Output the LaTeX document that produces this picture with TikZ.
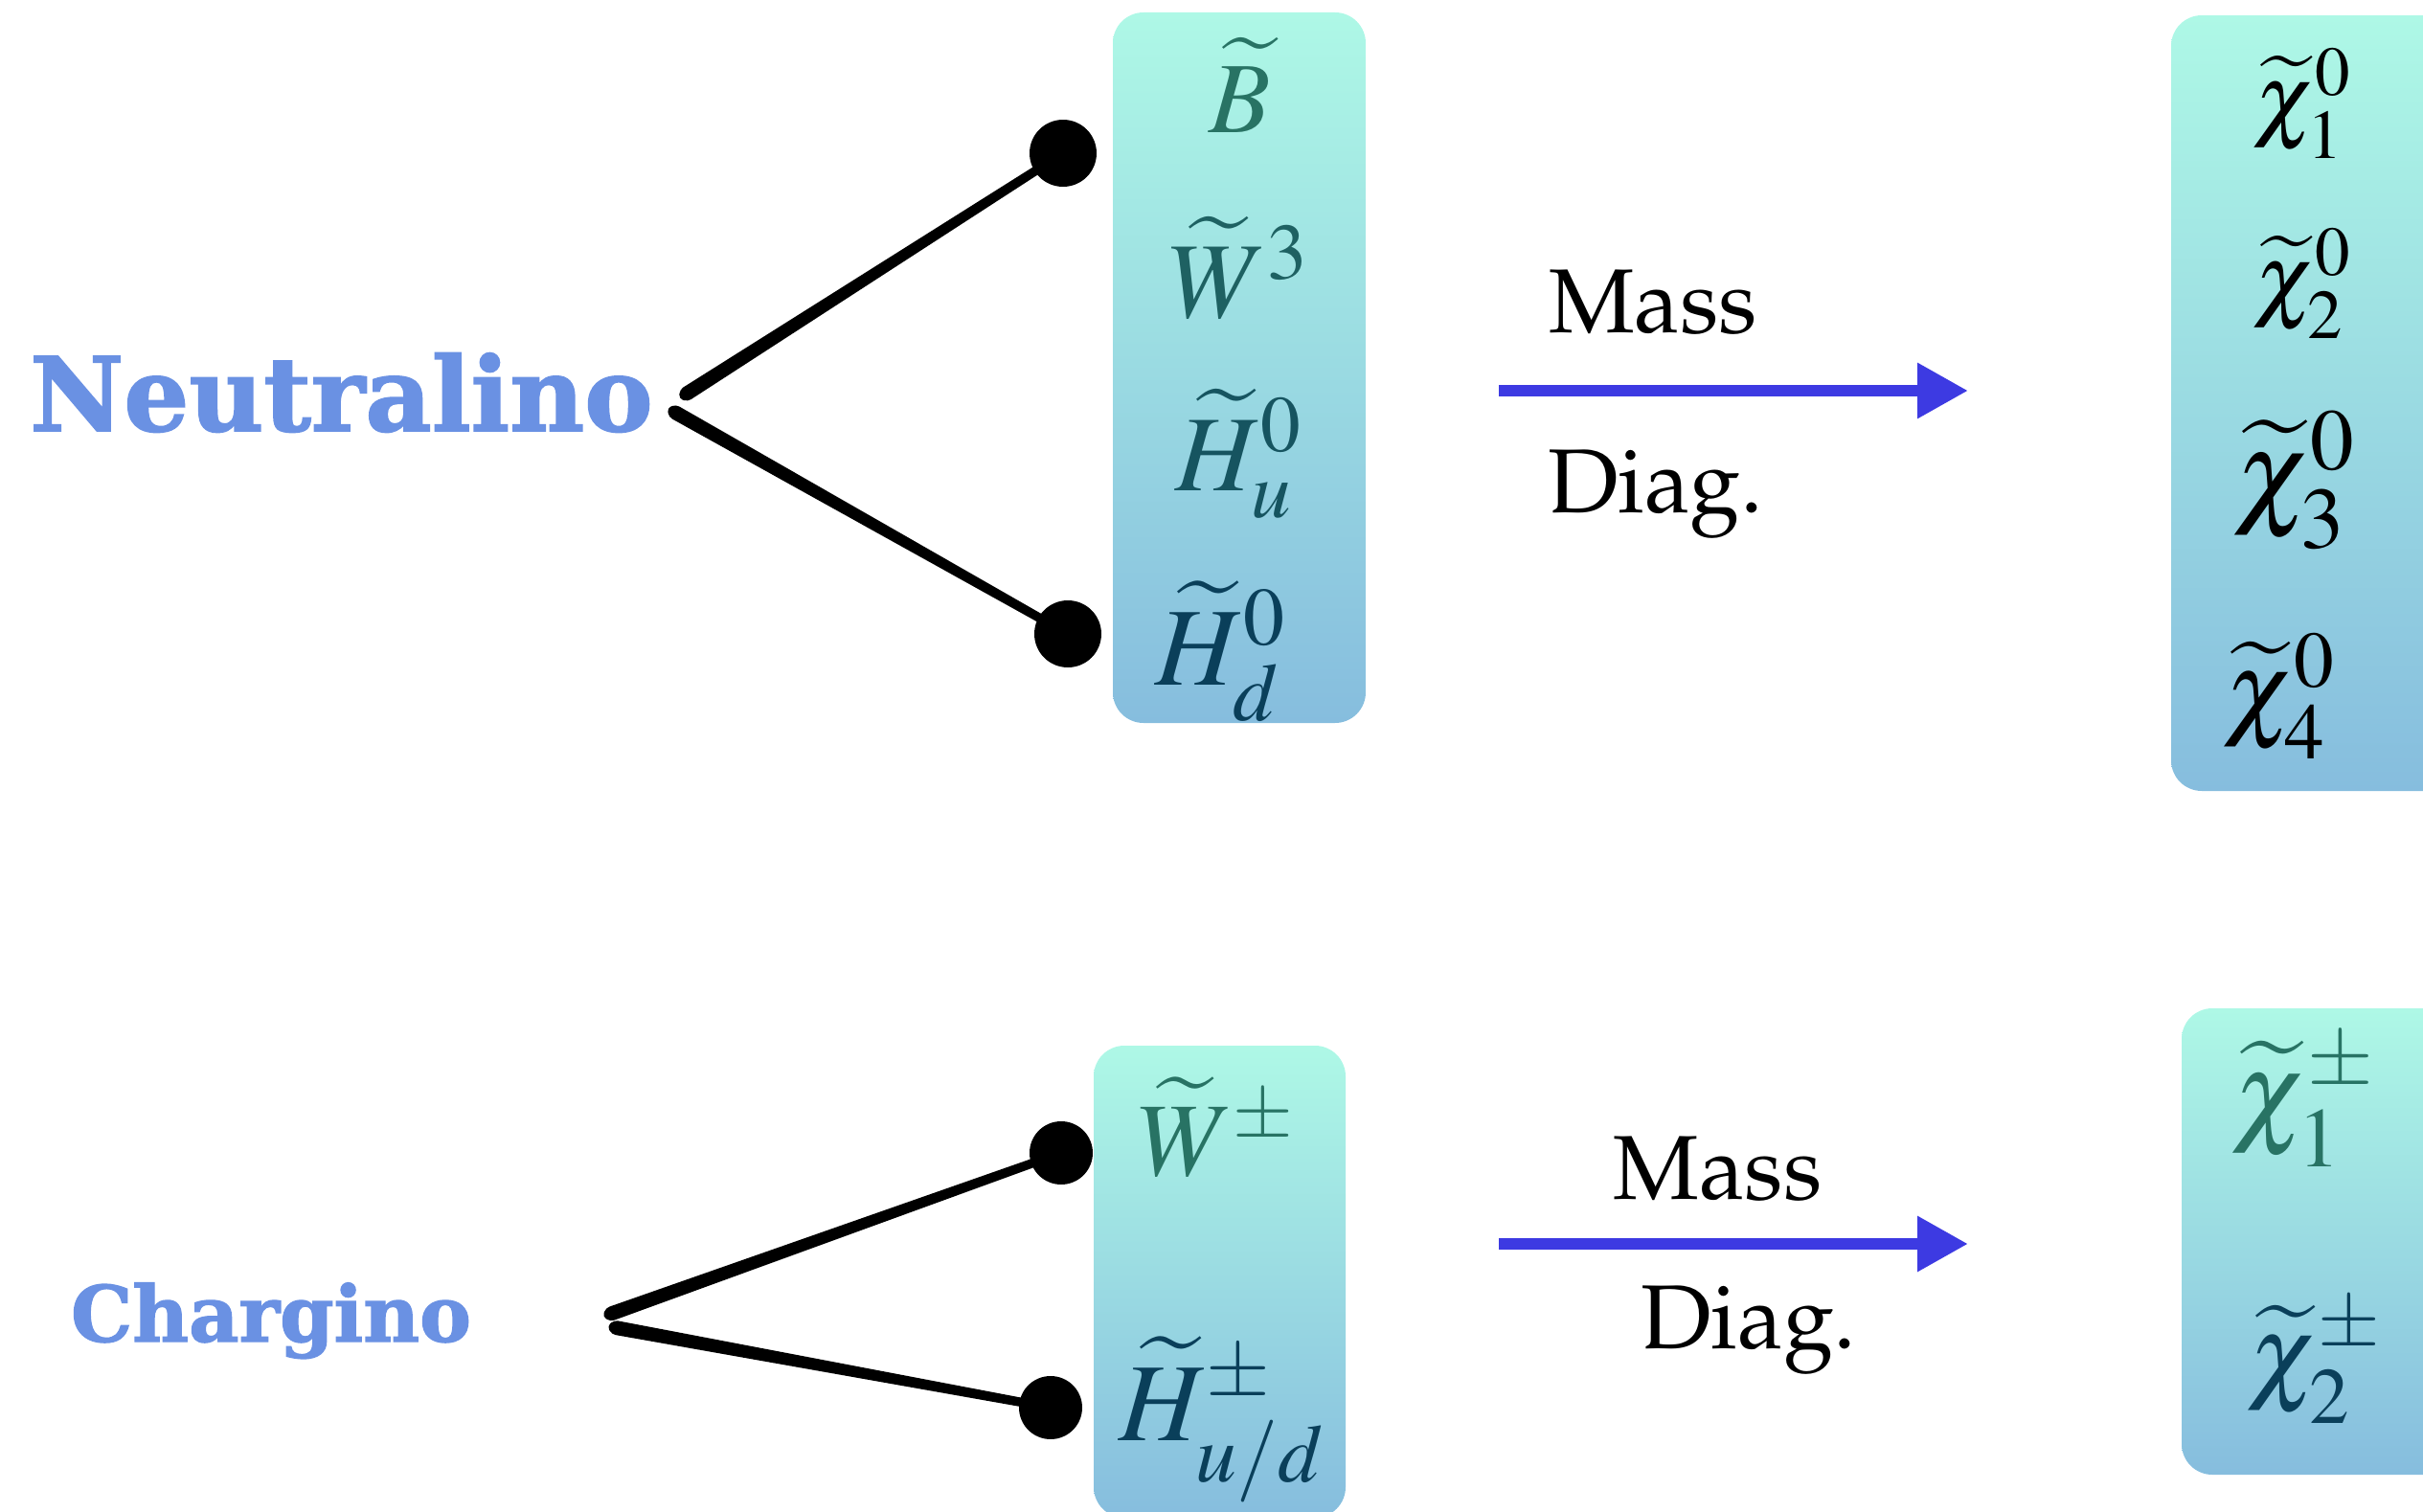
\documentclass[tikz,border=0pt]{standalone}
\usepackage[no-math]{fontspec}
\usepackage[T1]{fontenc}
\usepackage{mathptmx}
\renewcommand{\rmdefault}{ppl}
\newfontfamily\labelfont{DejaVu Serif}[BoldFeatures={FakeBold=1.6}]
\usetikzlibrary{positioning, arrows.meta, calc}

\definecolor{labelblue}{RGB}{106,145,227}
\definecolor{arrowblue}{RGB}{61,58,226}
\definecolor{boxtop}{RGB}{174,248,230}
\definecolor{boxbot}{RGB}{134,189,222}
\definecolor{tealA}{RGB}{40,115,100}
\definecolor{tealB}{RGB}{30,97,98}
\definecolor{tealC}{RGB}{22,84,96}
\definecolor{tealD}{RGB}{10,63,90}

\begin{document}
\begin{tikzpicture}[
    every node/.style={inner sep=0pt},
    partname/.style={font=\labelfont\bfseries, text=labelblue, anchor=base},
    mixbox/.style={rounded corners=0.32cm, top color=boxtop, bottom color=boxbot, draw=none, minimum width=2.64cm},
    vdot/.style={circle, fill=black, minimum size=0.70cm},
    brush/.style={rounded corners=0.04cm, to path={
        ($(\tikztostart)!-0.06cm!(\tikztotarget)$)
        -- ($(\tikztostart)!0.075cm!-90:(\tikztotarget)$)
        -- ($(\tikztotarget)!0.045cm!90:(\tikztostart)$)
        -- ($(\tikztotarget)!0.045cm!-90:(\tikztostart)$)
        -- ($(\tikztostart)!0.075cm!90:(\tikztotarget)$) -- cycle}},
    diagarrow/.style={-{Triangle[length=0.53cm, width=0.55cm]}, line width=0.125cm, draw=arrowblue},
    lbl/.style={font=\fontsize{27}{32}\selectfont, anchor=base},
]
\useasboundingbox (0,0) rectangle (25.30,-15.79);

% ── Neutralino ───────────────────────────────────────────────────────────────
\node[partname, font=\labelfont\bfseries\fontsize{30.5}{36}\selectfont] (neut) at (3.565,-4.50) {Neutralino};
\coordinate (nvtxa) at (7.14,-4.13);
\coordinate (nvtxb) at (7.02,-4.29);

\node[mixbox, minimum height=7.42cm] (nbox) at (12.94,-3.84) {};
\node[text=tealA, font=\fontsize{30}{36}\selectfont] (bino)  at (12.95,-0.89) {$\widetilde{B}$};
\node[text=tealB, font=\fontsize{32}{38}\selectfont] (wino)  at (12.94,-2.80) {$\widetilde{W}^3$};
\node[text=tealC, font=\fontsize{32}{38}\selectfont] (hup)   at (12.94,-4.74) {$\widetilde{H}_u^0$};
\node[text=tealD, font=\fontsize{33}{40}\selectfont] (hdown) at (12.75,-6.80) {$\widetilde{H}_d^0$};

\node[vdot] (ndota) at (11.10,-1.60) {};
\node[vdot] (ndotb) at (11.15,-6.62) {};
\fill[brush] (nvtxa) to (ndota);
\fill[brush] (nvtxb) to (ndotb);

\coordinate (narra) at (15.65,-4.08);
\coordinate (narrb) at (20.55,-4.08);
\draw[diagarrow] (narra) -- (narrb);
\node[lbl] (nmass) at (17.26,-3.47) {Mass};
\node[lbl] (ndiag) at (17.285,-5.35) {Diag.};

\node[mixbox, minimum width=3.33cm, minimum height=8.10cm] (nmix) at (24.335,-4.21) {};
\node[font=\fontsize{28}{34}\selectfont] (chia) at (24.04,-1.08) {$\widetilde{\chi}_1^0$};
\node[font=\fontsize{28}{34}\selectfont] (chib) at (24.04,-2.96) {$\widetilde{\chi}_2^0$};
\node[font=\fontsize{35}{42}\selectfont] (chic) at (23.96,-5.02) {$\widetilde{\chi}_3^0$};
\node[font=\fontsize{32}{38}\selectfont] (chid) at (23.80,-7.27) {$\widetilde{\chi}_4^0$};

% ── Chargino ─────────────────────────────────────────────────────────────────
\node[partname, font=\labelfont\bfseries\fontsize{23}{28}\selectfont] (charg) at (2.83,-14.01) {Chargino};
\coordinate (cvtxa) at (6.35,-13.73);
\coordinate (cvtxb) at (6.40,-13.86);

\node[mixbox, minimum width=2.63cm, minimum height=4.93cm] (cbox) at (12.735,-13.385) {};
\node[text=tealA, font=\fontsize{31}{37}\selectfont] (cwino) at (12.70,-11.77) {$\widetilde{W}^{\pm}$};
\node[text=tealD, font=\fontsize{33}{40}\selectfont] (chino) at (12.76,-14.82) {$\widetilde{H}^{\pm}_{u/d}$};

\node[vdot, minimum size=0.66cm] (cdota) at (11.08,-12.04) {};
\node[vdot, minimum size=0.66cm] (cdotb) at (10.97,-14.70) {};
\fill[brush] (cvtxa) to (cdota);
\fill[brush] (cvtxb) to (cdotb);

\coordinate (carra) at (15.65,-12.99);
\coordinate (carrb) at (20.55,-12.99);
\draw[diagarrow] (carra) -- (carrb);
\node[lbl] (cmass) at (17.935,-12.52) {Mass};
\node[lbl] (cdiag) at (18.26,-14.08) {Diag.};

\node[mixbox, minimum width=3.22cm, minimum height=4.87cm] (cmix) at (24.39,-12.965) {};
\node[text=tealA, font=\fontsize{34}{40}\selectfont] (chipa) at (24.05,-11.50) {$\widetilde{\chi}_1^{\pm}$};
\node[text=tealD, font=\fontsize{32}{38}\selectfont] (chipb) at (24.17,-14.22) {$\widetilde{\chi}_2^{\pm}$};

\end{tikzpicture}
\end{document}
